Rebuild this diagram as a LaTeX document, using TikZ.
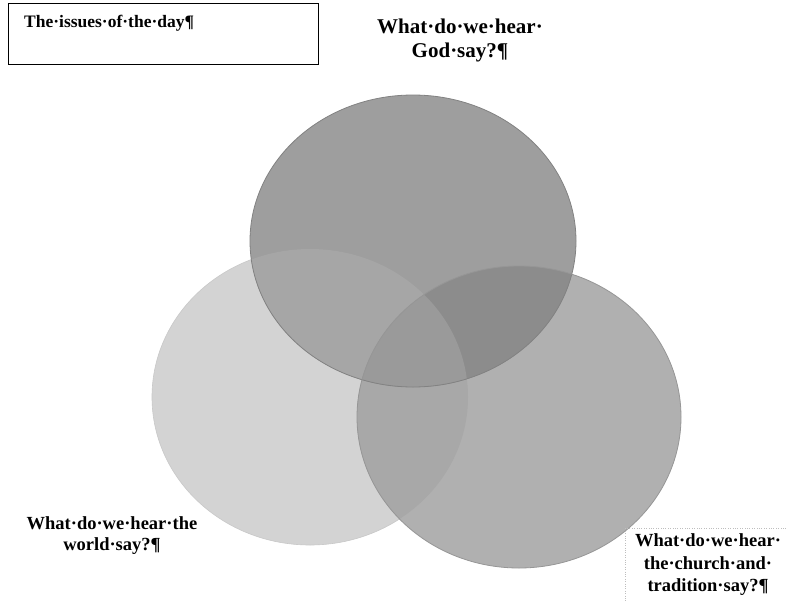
\documentclass[tikz,border=0pt]{standalone}
\usepackage{fontspec}
\setmainfont{Liberation Serif}
\begin{document}
\begin{tikzpicture}[x=1pt,y=-1pt,
  lbl/.style={font=\bfseries\fontsize{18.5}{21}\selectfont, align=center, inner sep=0pt},
  ring/.style={line width=0.8pt}]
\useasboundingbox (0,0) rectangle (787,600);
\fill[white] (0,0) rectangle (787,600);
\def\Lc{(310,397) ellipse [x radius=158, y radius=148]}
\def\Tc{(413,241) ellipse [x radius=163, y radius=146]}
\def\Rc{(519,417) ellipse [x radius=162, y radius=151]}
% base fills
\fill[fill={rgb,255:red,211;green,211;blue,211}] \Lc;
\draw[draw={rgb,255:red,200;green,200;blue,200}, line width=0.6pt] \Lc;
\fill[fill={rgb,255:red,176;green,176;blue,176}] \Rc;
\fill[fill={rgb,255:red,158;green,158;blue,158}] \Tc;
% overlaps
\begin{scope}\clip \Lc; \fill[fill={rgb,255:red,168;green,168;blue,168}] \Rc; \end{scope}
\begin{scope}\clip \Lc; \fill[fill={rgb,255:red,166;green,166;blue,166}] \Tc; \end{scope}
\begin{scope}\clip \Tc; \fill[fill={rgb,255:red,140;green,140;blue,140}] \Rc; \end{scope}
\begin{scope}\clip \Tc; \clip \Lc; \fill[fill={rgb,255:red,154;green,154;blue,154}] \Rc; \end{scope}
% outlines
\draw[ring, draw={rgb,255:red,130;green,130;blue,130}] \Tc;
\draw[ring, draw={rgb,255:red,150;green,150;blue,150}] \Rc;
% texts
\node[draw, line width=1.2pt, minimum width=310, minimum height=61, anchor=north west, inner sep=0pt] (issuesbox) at (8,3) {};
\node[lbl, font=\bfseries\fontsize{17.5}{21}\selectfont, anchor=north west] (issues) at (24,15) {The·issues·of·the·day¶};
\node[lbl, font=\bfseries\fontsize{21}{24}\selectfont] (god) at (460,40) {What·do·we·hear·\\God·say?¶};
\node[lbl] (world) at (112,536) {What·do·we·hear·the\\world·say?¶};
\node[draw={rgb,255:red,190;green,190;blue,190}, dotted, minimum width=170, minimum height=75, anchor=north west, inner sep=0pt] (churchbox) at (625,528) {};
\node[lbl, font=\bfseries\fontsize{18.5}{22.5}\selectfont] (church) at (708,565) {What·do·we·hear·\\the·church·and·\\tradition·say?¶};
\end{tikzpicture}
\end{document}
